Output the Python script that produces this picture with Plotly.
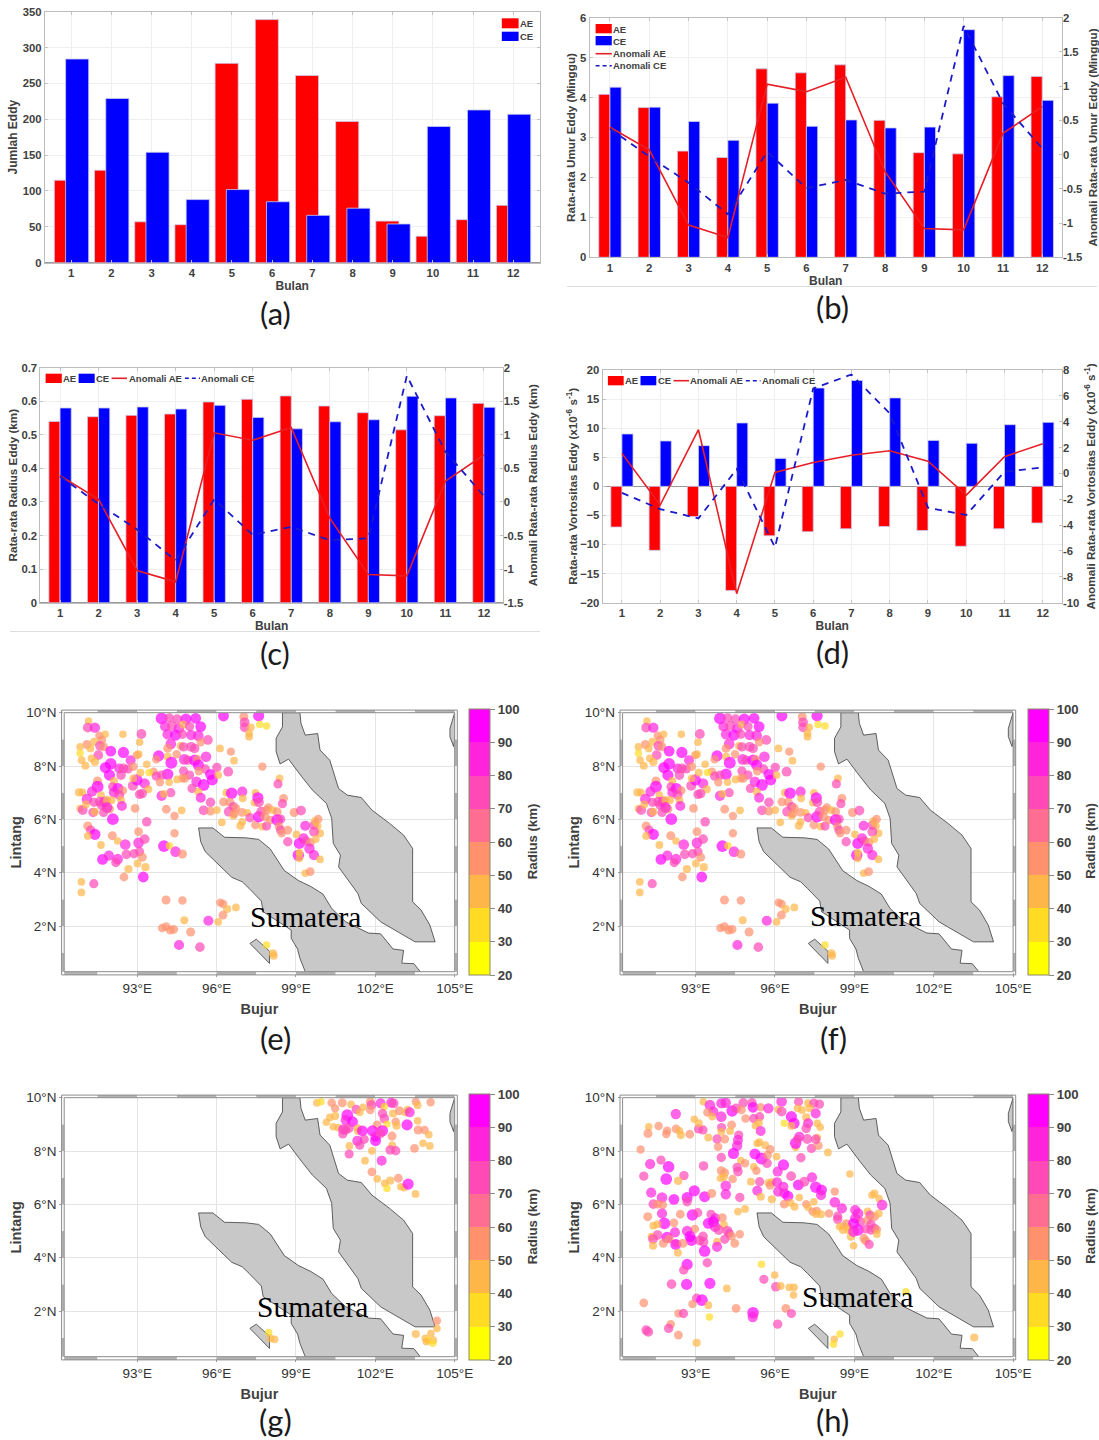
import plotly.graph_objects as go

W, H = 1099, 1440
months = list(range(1, 13))

count_ae = [115, 129, 57, 53, 278, 339, 261, 197, 58, 37, 60, 80]
count_ce = [284, 229, 154, 88, 102, 85, 66, 76, 54, 190, 213, 207]

age_ae = [4.08, 3.75, 2.66, 2.5, 4.72, 4.62, 4.82, 3.43, 2.62, 2.59, 4.02, 4.53]
age_ce = [4.26, 3.76, 3.4, 2.93, 3.86, 3.28, 3.44, 3.24, 3.26, 5.7, 4.55, 3.93]
age_anom_ae = [0.4, 0.07, -1.03, -1.21, 1.03, 0.92, 1.13, -0.25, -1.08, -1.10, 0.31, 0.70]
age_anom_ce = [0.38, -0.03, -0.41, -0.87, 0.04, -0.49, -0.37, -0.57, -0.54, 1.88, 0.75, 0.09]

radius_ae = [.54, .554, .558, .562, .598, .606, .616, .586, .566, .515, .557, .594]
radius_ce = [.58, .58, .583, .577, .588, .552, .518, .539, .545, .615, .61, .582]
radius_anom_ae = [0.39, 0.04, -1.02, -1.19, 1.03, 0.92, 1.11, -0.24, -1.08, -1.10, 0.31, 0.70]
radius_anom_ce = [0.38, -0.03, -0.41, -0.87, 0.04, -0.49, -0.37, -0.57, -0.54, 1.88, 0.75, 0.09]

vort_ae = [-7, -11, -5.2, -17.9, -8.5, -7.8, -7.3, -6.9, -7.6, -10.3, -7.3, -6.3]
vort_ce = [9, 7.8, 7, 10.9, 4.8, 16.9, 18.2, 15.2, 7.9, 7.4, 10.6, 11]
vort_anom_ae = [1.55, -2.45, 3.38, -9.3, 0.08, 0.85, 1.4, 1.75, 0.95, -1.68, 1.3, 2.3]
vort_anom_ce = [-1.5, -2.76, -3.48, 0.33, -5.72, 6.57, 7.65, 4.64, -2.65, -3.22, 0.13, 0.46]

sumatra_lon = [95.32, 95.86, 96.30, 97.10, 97.59, 98.03, 98.56, 99.09, 99.55, 100.02, 100.35, 100.88, 101.74, 102.20, 102.67, 103.07, 103.00, 103.46, 103.70, 99.35, 99.15, 99.06, 98.82, 98.82, 97.76, 97.69, 97.23, 96.97, 96.57, 96.04, 95.57, 95.40, 95.32]
sumatra_lat = [5.68, 5.68, 5.33, 5.31, 5.25, 4.89, 4.08, 3.71, 3.49, 3.20, 2.66, 2.16, 1.74, 1.71, 1.14, 1.09, 0.61, 0.59, 0.29, 0.29, 0.79, 1.14, 1.54, 1.85, 2.54, 2.94, 3.41, 3.66, 3.83, 4.35, 4.79, 5.16, 5.68]
peninsula_lon = [98.49, 99.15, 99.19, 99.35, 99.82, 99.91, 100.28, 100.61, 100.94, 101.47, 101.87, 102.54, 103.07, 103.41, 103.41, 103.73, 104.06, 104.26, 103.50, 103.07, 102.20, 101.47, 101.34, 100.61, 100.68, 100.41, 100.35, 100.15, 99.62, 99.22, 98.72, 98.40, 98.25, 98.25, 98.49, 98.49]
peninsula_lat = [10.0, 10.0, 9.60, 9.16, 9.22, 8.60, 8.22, 7.16, 6.91, 6.82, 6.35, 5.85, 5.41, 4.91, 2.91, 2.60, 2.04, 1.41, 1.41, 1.66, 2.16, 2.85, 3.22, 4.22, 4.66, 5.10, 6.04, 6.60, 7.10, 7.60, 8.26, 8.08, 8.54, 9.04, 9.47, 10.0]
island_lon = [97.26, 97.50, 98.00, 98.00, 97.26]
island_lat = [1.35, 1.51, 1.06, 0.60, 1.35]
sliver_lon = [104.82, 105.0, 105.0, 104.96, 104.82, 104.82]
sliver_lat = [9.41, 10.0, 8.98, 8.73, 9.10, 9.41]

e_lon = [
 91.16, 91.13, 91.40, 91.57, 91.79, 91.66, 91.10, 90.84, 91.23, 91.37,
 91.59, 91.73, 91.53, 90.84, 90.90, 91.04, 91.27, 91.40, 92.00, 92.48,
 92.75, 92.99, 93.05, 93.16, 93.09, 92.46, 92.00, 91.80, 91.95, 92.32,
 92.48, 92.65, 92.85, 92.39, 92.12, 91.50, 91.50, 91.29, 92.07, 92.27,
 92.12, 92.46, 92.32, 92.83, 93.28, 92.99, 92.85, 93.12, 93.36, 93.62,
 93.45, 93.42, 93.19, 93.09, 90.80, 90.93, 90.84, 90.94, 91.10, 91.06,
 91.37, 91.63, 91.59, 91.77, 91.66, 91.86, 92.03, 92.39, 92.42, 91.95,
 91.86, 91.33, 91.40, 91.73, 92.92, 92.08, 93.36, 93.05, 91.13, 91.24,
 91.40, 91.13, 92.06, 92.26, 93.05, 93.28, 92.55, 91.63, 91.69, 91.93,
 92.26, 92.19, 92.59, 92.88, 93.09, 93.19, 93.01, 93.31, 92.67, 93.23,
 92.50, 90.89, 90.89, 91.36,
 93.92, 94.21, 94.51, 94.84, 95.21, 94.05, 94.31, 94.58, 94.74, 94.98,
 95.40, 94.15, 94.45, 94.71, 95.04, 95.31, 95.67, 95.40, 94.27, 94.64,
 94.75, 95.04, 95.17, 94.15, 93.81, 93.72, 94.15, 94.49, 94.29, 94.78,
 94.91, 95.17, 95.27, 95.31, 95.60, 96.01, 95.57, 95.33, 94.75, 94.98,
 94.71, 94.51, 94.80, 94.15, 93.92, 93.72, 93.86, 94.21, 95.77, 95.84,
 96.06, 95.24, 95.51, 95.07, 95.31, 95.40, 95.77, 95.51, 95.77, 96.01,
 94.27, 93.92, 94.01, 94.10, 94.68, 94.41, 96.20, 94.41, 94.01, 94.22,
 94.45, 94.71, 96.44, 96.13, 96.54, 96.66, 96.26, 97.03, 97.06, 97.06,
 97.30, 97.23, 97.23, 97.59, 97.63, 97.89, 97.73, 98.38, 98.32, 98.53,
 98.49,
 96.37, 96.57, 96.97, 96.99, 97.47, 97.43, 97.56, 97.60, 96.26, 96.50,
 96.63, 96.73, 96.46, 96.63, 96.67, 96.97, 97.16, 96.97, 96.90, 97.26,
 97.47, 97.59, 97.69, 97.89, 97.96, 98.13, 98.29, 97.83, 97.73, 97.89,
 98.03, 98.29, 98.42, 98.36, 98.42, 98.69, 98.46, 98.69, 98.93, 99.19,
 99.02, 99.13, 99.29, 99.38, 99.55, 99.35, 99.68, 99.72, 99.84, 99.82,
 99.91, 99.68, 99.75, 99.51, 99.68, 99.09, 99.13, 99.13, 99.91, 99.35,
 99.54,
 94.09, 94.71, 93.94, 94.09, 94.25, 94.38, 94.78, 95.02, 94.58, 95.37,
 95.69, 96.06, 96.14, 96.25, 96.40, 96.24, 96.73, 97.89, 98.13, 98.16]
e_lat = [
 9.69, 9.44, 9.44, 9.14, 9.19, 8.98, 8.81, 8.72, 8.66, 8.91,
 8.76, 8.72, 8.41, 8.48, 8.22, 8.01, 8.29, 8.16, 8.56, 8.51,
 8.22, 8.41, 8.44, 9.20, 8.89, 9.19, 8.08, 7.94, 7.66, 7.91,
 7.91, 7.89, 7.98, 7.66, 7.44, 7.44, 7.22, 7.04, 7.22, 7.16,
 7.01, 7.08, 6.91, 7.26, 7.35, 7.48, 7.54, 7.75, 8.07, 7.79,
 7.76, 7.13, 6.97, 6.94, 7.01, 7.01, 6.41, 6.35, 6.76, 6.56,
 6.64, 6.91, 6.66, 6.66, 6.54, 6.72, 6.72, 6.72, 6.50, 6.39,
 6.45, 6.26, 6.29, 6.26, 6.41, 6.01, 5.91, 5.54, 5.75, 5.60,
 5.44, 5.38, 5.39, 5.19, 5.12, 5.26, 5.06, 5.04, 4.50, 4.64,
 4.51, 4.38, 4.69, 4.71, 4.79, 4.58, 4.35, 4.21, 4.14, 3.84,
 3.84, 3.66, 3.26, 3.59,
 9.79, 9.81, 9.76, 9.76, 9.79, 9.48, 9.51, 9.41, 9.56, 9.48,
 9.48, 9.19, 9.16, 9.19, 9.16, 9.14, 8.98, 8.89, 8.83, 8.75,
 8.72, 8.72, 8.66, 8.66, 8.38, 8.25, 8.35, 8.44, 8.12, 8.25,
 8.22, 8.22, 8.26, 8.04, 8.35, 7.95, 7.89, 7.81, 7.81, 7.66,
 7.54, 7.50, 7.54, 7.69, 7.66, 7.62, 7.39, 7.39, 7.69, 7.48,
 7.66, 7.41, 7.29, 7.16, 7.04, 6.81, 6.64, 6.34, 6.31, 6.35,
 7.00, 6.88, 6.96, 6.38, 6.34, 6.13, 5.89, 5.48, 5.00, 5.01,
 4.79, 4.70, 7.79, 8.66, 8.54, 8.20, 9.88, 9.85, 9.64, 9.45,
 9.45, 9.23, 9.10, 9.88, 9.56, 9.50, 7.98, 7.54, 7.33, 6.79,
 6.59,
 7.00, 6.98, 7.04, 6.79, 7.00, 6.63, 6.81, 6.64, 6.66, 6.64,
 6.48, 6.41, 6.29, 6.14, 6.22, 6.26, 6.25, 5.91, 5.76, 6.06,
 5.79, 6.10, 6.29, 6.35, 6.45, 6.35, 6.29, 6.10, 5.73, 5.75,
 5.98, 5.98, 6.01, 5.73, 5.60, 5.60, 5.48, 5.16, 6.26, 6.33,
 5.44, 5.10, 5.29, 5.19, 5.14, 5.76, 5.79, 5.94, 6.01, 5.75,
 5.48, 5.54, 5.26, 4.91, 4.66, 4.66, 4.75, 4.54, 4.50, 3.98,
 4.04,
 2.98, 2.96, 1.93, 1.98, 1.85, 1.88, 2.22, 1.78, 1.29, 1.21,
 2.20, 2.16, 2.88, 2.83, 2.64, 2.41, 2.70, 1.29, 0.98, 0.89]
e_rad = [
 40, 68, 75, 50, 40, 55, 58, 42, 42, 45,
 65, 58, 68, 38, 42, 45, 42, 48, 80, 85,
 70, 50, 45, 68, 40, 40, 90, 85, 85, 70,
 68, 60, 55, 65, 45, 58, 95, 72, 60, 82,
 72, 52, 68, 68, 75, 85, 42, 42, 40, 50,
 38, 45, 65, 62, 48, 42, 40, 68, 78, 42,
 60, 42, 68, 78, 68, 48, 42, 42, 70, 58,
 78, 65, 45, 60, 55, 92, 65, 55, 58, 60,
 85, 42, 58, 40, 78, 68, 78, 42, 80, 72,
 78, 60, 65, 62, 60, 58, 42, 48, 48, 80,
 55, 42, 42, 60,
 92, 60, 65, 85, 80, 70, 68, 75, 45, 60,
 80, 75, 85, 60, 72, 78, 68, 50, 78, 45,
 62, 68, 65, 55, 85, 50, 45, 50, 95, 78,
 62, 85, 50, 85, 78, 62, 62, 52, 60, 60,
 50, 42, 55, 88, 62, 60, 50, 40, 80, 82,
 42, 75, 92, 60, 45, 70, 65, 68, 55, 42,
 60, 72, 42, 55, 42, 50, 42, 50, 92, 38,
 78, 58, 68, 42, 50, 42, 82, 58, 68, 65,
 40, 42, 42, 85, 38, 38, 50, 42, 60, 55,
 60,
 42, 90, 72, 42, 40, 42, 85, 68, 55, 58,
 60, 55, 68, 42, 58, 55, 40, 42, 48, 62,
 55, 88, 68, 58, 50, 42, 58, 58, 42, 60,
 50, 90, 62, 55, 60, 55, 50, 62, 58, 68,
 42, 85, 72, 60, 55, 70, 62, 45, 52, 40,
 45, 68, 40, 75, 72, 88, 38, 42, 40, 40,
 55,
 58, 52, 52, 55, 58, 55, 45, 58, 72, 65,
 72, 42, 50, 50, 48, 55, 42, 38, 48, 45]

f_lon = e_lon
f_lat = e_lat
f_rad = e_rad

g_lon = [
 99.79, 99.95, 100.35, 100.75, 101.08, 101.81, 101.85, 102.20, 102.60, 102.69,
 103.53, 103.60, 104.09, 100.48, 101.28, 101.54, 101.41, 101.81, 102.34, 102.27,
 102.67, 102.91, 103.13, 103.22, 103.30, 100.28, 100.15, 100.48, 100.94, 100.88,
 101.14, 102.34, 102.07, 102.44, 102.77, 102.80, 103.20, 103.60, 100.41, 100.59,
 100.79, 100.88, 101.01, 100.77, 101.34, 101.34, 101.51, 101.89, 102.27, 102.01,
 102.01, 102.20, 102.63, 103.62, 103.86, 104.02, 101.58, 101.32, 101.41, 101.02,
 102.64, 103.80, 104.06, 103.48, 101.87, 102.56, 102.77, 101.01, 101.61, 102.24,
 101.87, 102.07, 102.56, 102.36, 102.44, 102.87, 102.96, 103.09, 103.24, 103.52,
 104.33, 104.33, 103.53, 104.10, 103.89, 103.99, 104.19, 103.93, 104.17, 97.97,
 98.03, 98.19]
g_lat = [
 9.81, 9.85, 9.81, 9.81, 9.75, 9.85, 9.72, 9.79, 9.81, 9.79,
 9.85, 9.72, 9.83, 9.60, 9.56, 9.64, 9.45, 9.54, 9.66, 9.41,
 9.41, 9.51, 9.45, 9.56, 9.45, 9.26, 9.08, 9.31, 9.35, 9.16,
 9.10, 9.22, 8.98, 9.01, 9.10, 8.95, 8.98, 9.13, 8.91, 8.88,
 8.81, 8.79, 8.85, 8.64, 8.85, 8.75, 8.76, 8.76, 8.76, 8.54,
 8.39, 8.66, 8.56, 8.79, 8.79, 8.62, 8.44, 8.38, 8.22, 8.19,
 8.22, 8.29, 8.19, 8.10, 8.01, 8.04, 8.01, 7.89, 7.64, 7.64,
 7.22, 6.96, 6.89, 6.79, 6.60, 6.98, 6.66, 6.63, 6.76, 6.39,
 1.64, 1.35, 1.14, 1.16, 0.98, 0.91, 0.91, 0.85, 0.79, 1.20,
 0.98, 0.94]
g_rad = [
 42, 38, 52, 58, 42, 58, 65, 72, 70, 68,
 50, 42, 50, 50, 62, 40, 42, 52, 38, 62,
 45, 58, 42, 40, 70, 42, 40, 48, 92, 72,
 80, 65, 58, 38, 50, 48, 85, 40, 40, 42,
 75, 62, 60, 60, 45, 42, 80, 82, 85, 75,
 82, 60, 58, 58, 52, 42, 60, 72, 60, 42,
 42, 40, 42, 55, 42, 65, 62, 60, 42, 70,
 55, 42, 48, 42, 38, 55, 40, 42, 85, 42,
 50, 40, 48, 40, 42, 38, 42, 40, 38, 38,
 42, 42]

h_lon = [
 93.29, 93.54, 93.67, 93.45, 93.63, 93.97, 94.14, 94.38, 94.53, 93.97,
 92.25, 94.80, 95.13, 94.73, 95.17, 95.46, 95.75, 96.25, 96.12, 96.25,
 96.62, 96.72, 96.89, 97.25, 97.47, 97.68, 96.85, 97.02, 97.31, 97.54,
 97.18, 97.25, 97.18, 97.60, 97.71, 96.35, 96.62, 94.89, 95.20, 95.42,
 95.39, 95.26, 95.46, 94.36, 93.98, 94.30, 93.97, 94.63, 94.60, 94.57,
 93.81, 94.10, 93.48, 93.11, 93.28, 92.95, 93.12, 91.23, 91.60, 91.20,
 91.92, 91.89, 92.26, 92.39, 92.44, 92.78, 90.92, 91.28, 91.69, 91.98,
 93.30, 91.04, 92.56, 91.89, 92.34, 93.85, 93.97, 94.43, 94.71, 94.87,
 94.57, 94.60, 93.97, 94.10, 93.94, 94.07, 94.40, 94.14, 94.14, 94.67,
 95.24, 95.49, 95.41, 95.33, 95.63, 95.82, 95.72, 95.70, 96.06, 96.32,
 96.10, 95.20, 95.30, 95.09, 95.42, 95.33, 95.46, 95.75, 95.88, 95.82,
 96.08, 96.12, 96.32, 96.36, 96.49, 96.61, 96.88, 97.11, 96.78, 96.78,
 96.92, 96.85, 97.22, 97.38, 97.60, 97.64, 98.00, 96.98, 97.54, 97.40,
 97.54, 97.76, 97.74, 98.83, 98.26, 98.26, 98.53, 95.88, 96.35, 96.58,
 96.74, 96.92, 97.18, 97.25, 97.47, 97.42, 97.58, 97.55, 97.74, 98.04,
 91.32, 91.73, 92.18, 92.68, 92.68, 92.95, 93.34, 93.61, 91.40, 91.76,
 91.56, 91.73, 91.19, 92.42, 92.88, 93.08, 94.60, 94.87, 93.58, 93.74,
 94.01, 93.48, 93.67, 93.74, 94.07, 91.82, 92.18, 91.40, 91.56, 92.97,
 92.22, 92.68, 92.79, 92.84, 93.28, 93.15, 93.30, 91.56, 91.33, 91.39,
 91.92, 92.00, 91.78, 92.25, 92.25, 92.52, 91.39, 92.33, 93.34, 93.87,
 94.20, 94.27, 94.36, 94.10, 93.81, 93.81, 94.48, 94.67, 93.44, 92.68,
 92.55, 92.09, 92.66, 93.54, 94.18, 95.49, 95.99, 95.58, 96.03, 96.21,
 96.54, 96.72, 96.70, 91.04, 93.04, 93.24, 92.88, 93.48, 93.52, 94.53,
 95.17, 95.16, 96.41, 96.62, 96.10, 92.35, 92.54, 92.06, 91.98, 91.13,
 91.21, 92.35, 93.04, 98.24, 98.21, 98.46, 103.53, 100.95,
 98.37, 98.37, 98.44, 98.57, 98.57, 98.70, 98.79, 98.77, 98.87, 98.97,
 99.03, 99.14, 99.03, 99.23, 98.97, 99.14, 98.97, 99.50, 99.59, 99.76,
 99.92, 99.50, 99.63, 99.76, 99.43, 99.63, 99.85, 99.85, 99.36, 99.43,
 99.56, 99.67, 99.76, 99.93, 100.05]
h_lat = [
 9.85, 9.72, 9.48, 9.45, 9.29, 9.79, 9.81, 9.50, 9.60, 9.29,
 9.39, 9.81, 9.81, 9.54, 9.64, 9.64, 9.60, 9.86, 9.56, 9.48,
 9.29, 9.04, 9.85, 9.79, 9.79, 9.76, 9.60, 9.54, 9.60, 9.41,
 9.26, 9.04, 8.85, 9.04, 8.89, 9.04, 8.94, 9.22, 9.22, 9.29,
 9.06, 8.95, 8.75, 8.98, 8.88, 8.75, 8.72, 8.60, 8.41, 8.20,
 8.45, 8.45, 8.51, 8.83, 8.79, 9.19, 9.04, 8.91, 8.94, 8.66,
 8.76, 8.64, 8.83, 8.76, 8.60, 8.63, 8.06, 7.51, 7.66, 7.41,
 7.44, 7.06, 7.08, 6.95, 6.88, 8.16, 7.76, 7.91, 7.64, 7.54,
 7.39, 7.23, 7.26, 7.19, 6.98, 7.04, 6.95, 6.70, 6.38, 6.26,
 7.89, 7.72, 8.33, 8.29, 8.22, 8.06, 7.85, 7.54, 7.79, 7.48,
 7.23, 7.41, 7.26, 6.85, 6.85, 6.51, 6.29, 6.81, 6.85, 6.71,
 6.83, 6.48, 6.66, 6.41, 6.31, 7.06, 6.73, 6.85, 8.13, 8.29,
 8.54, 8.44, 8.45, 8.10, 8.51, 8.20, 7.95, 7.75, 8.44, 7.01,
 6.64, 6.54, 6.35, 7.14, 6.48, 6.08, 5.85, 6.19, 6.01, 6.06,
 5.91, 6.26, 6.01, 5.89, 6.10, 5.73, 5.75, 5.64, 5.63, 5.66,
 6.44, 6.26, 6.19, 6.26, 6.10, 6.51, 6.29, 6.41, 6.01, 5.98,
 6.01, 5.66, 5.54, 5.63, 5.60, 5.69, 5.73, 5.83, 5.63, 5.48,
 5.50, 5.29, 5.35, 5.16, 5.23, 5.29, 5.31, 5.20, 5.26, 5.08,
 4.95, 5.00, 4.80, 4.65, 4.80, 4.65, 4.59, 4.85, 4.79, 4.70,
 4.76, 4.70, 4.54, 4.54, 4.50, 4.54, 4.45, 4.19, 4.25, 5.04,
 5.01, 4.91, 4.81, 4.69, 4.60, 4.41, 4.54, 4.88, 3.81, 3.75,
 3.54, 3.01, 3.00, 3.04, 2.85, 3.76, 3.35, 3.19, 2.91, 2.94,
 2.89, 2.89, 2.60, 2.31, 2.48, 2.41, 2.26, 2.22, 1.78, 2.10,
 1.94, 1.78, 2.10, 1.91, 1.51, 1.91, 1.91, 1.51, 1.35, 1.29,
 1.22, 1.10, 0.81, 0.94, 0.76, 1.14, 1.01, 2.73,
 5.56, 5.44, 5.16, 5.19, 5.04, 5.29, 5.16, 5.04, 4.79, 4.45,
 5.79, 5.66, 5.48, 5.35, 5.29, 5.04, 4.98, 5.73, 5.60, 5.54,
 5.66, 5.41, 5.26, 5.10, 5.08, 5.04, 5.06, 4.89, 4.73, 4.63,
 4.50, 6.35, 6.41, 6.22, 5.98]
h_rad = [
 40, 78, 70, 55, 40, 72, 75, 88, 68, 78,
 75, 65, 62, 55, 80, 50, 75, 78, 40, 68,
 85, 85, 60, 45, 62, 62, 42, 45, 45, 72,
 48, 70, 65, 42, 40, 38, 42, 52, 62, 60,
 48, 40, 70, 55, 60, 42, 42, 60, 70, 75,
 62, 55, 45, 60, 60, 40, 45, 40, 52, 58,
 52, 50, 55, 40, 48, 55, 50, 72, 60, 90,
 65, 62, 62, 92, 48, 52, 62, 85, 40, 50,
 62, 65, 58, 55, 40, 45, 52, 78, 75, 62,
 82, 95, 42, 42, 45, 55, 55, 65, 40, 85,
 70, 42, 50, 42, 62, 70, 45, 42, 40, 55,
 70, 72, 70, 72, 80, 68, 80, 68, 40, 88,
 70, 62, 68, 62, 40, 55, 42, 62, 65, 72,
 88, 80, 72, 40, 50, 78, 72, 48, 55, 45,
 45, 40, 50, 40, 40, 50, 52, 48, 45, 50,
 72, 78, 80, 82, 62, 85, 82, 58, 65, 52,
 55, 72, 58, 55, 88, 60, 42, 42, 60, 72,
 58, 82, 80, 78, 45, 92, 55, 42, 42, 52,
 72, 78, 82, 85, 65, 68, 65, 68, 42, 68,
 85, 58, 58, 40, 82, 58, 45, 45, 90, 68,
 68, 60, 55, 60, 42, 72, 55, 50, 62, 85,
 62, 65, 85, 85, 42, 38, 40, 60, 65, 45,
 42, 42, 40, 55, 62, 90, 50, 42, 38, 55,
 90, 75, 55, 60, 62, 50, 62, 52, 62, 65,
 68, 55, 48, 40, 38, 38, 48, 38,
 60, 62, 40, 40, 45, 50, 48, 48, 48, 40,
 70, 78, 72, 62, 80, 88, 78, 45, 62, 58,
 45, 55, 60, 62, 60, 62, 50, 42, 55, 55,
 60, 42, 45, 40, 78]

GREY = "#404040"
FONT = "Liberation Sans"
BAR_BOX = {
    "a": (44.9, 539.6, 11.7, 262.7),
    "b": (589.6, 1061.9, 17.7, 257.3),
    "c": (40.4, 502.8, 367.7, 602.7),
    "d": (602.6, 1061.9, 370.0, 602.7),
}
MAP_COLS = {"e": 64.2, "f": 622.6, "g": 64.2, "h": 622.6}
MAP_TOPS = {"e": 712.7, "f": 712.7, "g": 1097.7, "h": 1097.7}
MAP_W, MAP_H = 390.5, 259.0
LON0, LON1, LAT0, LAT1 = 90.24, 105.0, 0.29, 10.0


def px(v):
    return v / W


def py(v):
    return 1 - v / H


fig = go.Figure()
shapes, annotations = [], []
layout = {}


def text(x, y, s, size=9.5, bold=True, color=GREY, family=FONT, anchor="left", angle=0):
    annotations.append(dict(
        x=px(x), y=py(y), xref="paper", yref="paper", text=s, showarrow=False,
        xanchor=anchor, yanchor="middle", textangle=angle, borderpad=0, borderwidth=0,
        font=dict(family=family, size=size, color=color, weight=700 if bold else 400),
    ))


def swatch(x0, x1, y0, y1, color):
    shapes.append(dict(type="rect", xref="paper", yref="paper", x0=px(x0), x1=px(x1),
                       y0=py(y0), y1=py(y1), fillcolor=color, line=dict(width=0), layer="above"))


def lineswatch(x0, x1, y, color, dash):
    shapes.append(dict(type="line", xref="paper", yref="paper", x0=px(x0), x1=px(x1),
                       y0=py(y), y1=py(y), line=dict(color=color, width=1.6, dash=dash), layer="above"))


def bar_panel(n, key, ae, ce, xr, yr, ytitle, ae_off, ce_off, width, standoff, ydtick,
              anom_ae=None, anom_ce=None, y2r=None, y2title=None, y2vals=None,
              y2standoff=6, size=11.7):
    x0, x1, top, bot = BAR_BOX[key]
    xa, ya = f"x{n}", f"y{n}"
    for vals, off, color, nm in ((ae, ae_off, "#ff0000", "AE"), (ce, ce_off, "#0000ff", "CE")):
        fig.add_trace(go.Bar(x=months, y=vals, offset=off, width=width, name=nm,
                             marker=dict(color=color, line=dict(color="rgba(205,205,235,0.8)", width=1)),
                             xaxis=xa, yaxis=ya, showlegend=False))
    layout[f"xaxis{n}"] = dict(
        domain=[px(x0), px(x1)], anchor=ya, range=xr, tickvals=months,
        title=dict(text="Bulan", standoff=3, font=dict(family=FONT, size=12, color=GREY, weight=700)),
        tickfont=dict(family=FONT, size=11.3, color=GREY, weight=700),
        showgrid=True, gridcolor="#efefef", showline=True, mirror="ticks", linecolor="#bdbdbd",
        ticks="inside", ticklen=3, tickcolor="#c4c4c4", zeroline=False)
    layout[f"yaxis{n}"] = dict(
        domain=[py(bot), py(top)], anchor=xa, range=yr, dtick=ydtick,
        title=dict(text=ytitle, standoff=standoff, font=dict(family=FONT, size=size, color=GREY, weight=700)),
        tickfont=dict(family=FONT, size=11.3, color=GREY, weight=700),
        showgrid=True, gridcolor="#efefef", showline=True, linecolor="#bdbdbd",
        mirror=anom_ae is None and "ticks" or True,
        ticks="inside", ticklen=3, tickcolor="#c4c4c4",
        zeroline=True, zerolinecolor="#9a9a9a", zerolinewidth=1)
    if anom_ae is not None:
        r = f"y{n + 20}"
        fig.add_trace(go.Scatter(x=months, y=anom_ae, mode="lines", name="Anomali AE",
                                 line=dict(color="#e81e25", width=1.6), xaxis=xa, yaxis=r, showlegend=False))
        fig.add_trace(go.Scatter(x=months, y=anom_ce, mode="lines", name="Anomali CE",
                                 line=dict(color="#1a1acb", width=1.8, dash="7px,6px"), xaxis=xa, yaxis=r,
                                 showlegend=False))
        layout[f"yaxis{n + 20}"] = dict(
            overlaying=ya, side="right", anchor=xa, range=y2r, tickvals=y2vals,
            ticktext=[f"{v:g}" for v in y2vals],
            title=dict(text=y2title, standoff=y2standoff, font=dict(family=FONT, size=size, color=GREY, weight=700)),
            tickfont=dict(family=FONT, size=11.3, color=GREY, weight=700),
            showgrid=False, zeroline=False, showline=False, ticks="inside", ticklen=3, tickcolor="#c4c4c4")


bar_panel(1, "a", count_ae, count_ce, [0.345, 12.655], [0, 350], "Jumlah Eddy", -0.42, -0.14, 0.575, 2, 50, size=12)
half = [-1.5, -1, -0.5, 0, 0.5, 1, 1.5, 2]
bar_panel(2, "b", age_ae, age_ce, [0.482, 12.5], [0, 6], "Rata-rata Umur Eddy (Minggu)", -0.285, 0, 0.285, 1, 1,
          age_anom_ae, age_anom_ce, [-1.5, 2], "Anomali Rata-rata Umur Eddy (Minggu)", half, y2standoff=7)
bar_panel(3, "c", radius_ae, radius_ce, [0.49, 12.49], [0, 0.7], "Rata-rata Radius Eddy (km)", -0.29, 0, 0.29, 1, 0.1,
          radius_anom_ae, radius_anom_ce, [-1.5, 2], "Anomali Rata-rata Radius Eddy (km)", half, y2standoff=6)
bar_panel(4, "d", vort_ae, vort_ce, [0.495, 12.5], [-20, 20], "Rata-rata Vortositas Eddy (x10<sup>-6</sup> s<sup>-1</sup>)",
          -0.29, 0, 0.29, 0, 5,
          vort_anom_ae, vort_anom_ce, [-10, 8], "Anomali Rata-rata Vortositas Eddy (x10<sup>-6</sup> s<sup>-1</sup>)",
          [-10, -8, -6, -4, -2, 0, 2, 4, 6, 8], y2standoff=8)

# Custom legends that keep MATLAB's wide swatches
RED, BLUE, LRED, LBLUE = "#ff0000", "#0000ff", "#e81e25", "#1a1acb"
swatch(501.8, 518.6, 18.3, 28.3, RED); text(520.4, 23.3, "AE")
swatch(501.8, 518.6, 31.7, 41, BLUE); text(520.4, 36.3, "CE")

swatch(595.6, 611.8, 24, 33.3, RED); text(613.2, 29, "AE")
swatch(595.6, 611.8, 36, 45.3, BLUE); text(613.2, 41, "CE")
lineswatch(595.6, 611.8, 53.7, LRED, "solid"); text(613.2, 53.7, "Anomali AE")
lineswatch(595.6, 611.8, 65.7, LBLUE, "4px,3px"); text(613.2, 65.7, "Anomali CE")

swatch(45.6, 61.8, 373.7, 383, RED); text(63.2, 378.3, "AE")
swatch(78.6, 94.7, 373.7, 383, BLUE); text(95.8, 378.3, "CE")
lineswatch(111.6, 127, 378.3, LRED, "solid"); text(128.8, 378.3, "Anomali AE")
lineswatch(184.9, 200, 378.3, LBLUE, "4px,3px"); text(201.4, 378.3, "Anomali CE")

swatch(607.9, 623.7, 376, 385.3, RED); text(624.7, 380.7, "AE")
swatch(640.5, 656.3, 376, 385.3, BLUE); text(657.7, 380.7, "CE")
lineswatch(673.5, 689, 380.7, LRED, "solid"); text(690.4, 380.7, "Anomali AE")
lineswatch(745.8, 760.5, 380.7, LBLUE, "4px,3px"); text(762.3, 380.7, "Anomali CE")

# Separator rules under (b) and (c)
for xa0, xa1, yy in ((567, 1097, 286.5), (10, 540, 631.5)):
    shapes.append(dict(type="line", xref="paper", yref="paper", x0=px(xa0), x1=px(xa1), y0=py(yy), y1=py(yy),
                       line=dict(color="#dedede", width=1.2)))

SPRING = [(255, 255, 0), (255, 219, 36), (255, 182, 73), (255, 146, 109),
          (255, 109, 146), (255, 73, 182), (255, 36, 219), (255, 0, 255)]
scale = []
for i, c in enumerate(SPRING):
    col = f"rgb{c}"
    scale += [[i / 8, col], [(i + 1) / 8, col]]


def frame(x0, y0):
    band = 2.6
    x1, y1 = x0 + MAP_W, y0 + MAP_H
    lx = lambda v: x0 + (v - LON0) / (LON1 - LON0) * MAP_W
    ly = lambda v: y1 - (v - LAT0) / (LAT1 - LAT0) * MAP_H
    xe = [LON0, 91.5, 93, 94.5, 96, 97.5, 99, 100.5, 102, 103.5, 105]
    ye = [LAT0] + list(range(1, 11))
    rect = dict(type="rect", xref="paper", yref="paper", layer="above", line=dict(width=0))
    for i in range(len(xe) - 1):
        a, b = lx(xe[i]), lx(xe[i + 1])
        bot_c, top_c = ("#b4b4b4", "#ffffff") if i % 2 == 0 else ("#ffffff", "#b4b4b4")
        shapes.append({**rect, "x0": px(a), "x1": px(b), "y0": py(y1), "y1": py(y1 + band + 0.6), "fillcolor": bot_c})
        shapes.append({**rect, "x0": px(a), "x1": px(b), "y0": py(y0 - band), "y1": py(y0), "fillcolor": top_c})
    for i in range(len(ye) - 1):
        a, b = ly(ye[i]), ly(ye[i + 1])
        c1 = "#b4b4b4" if i % 2 == 0 else "#ffffff"
        shapes.append({**rect, "x0": px(x0 - band), "x1": px(x0), "y0": py(a), "y1": py(b), "fillcolor": c1})
        shapes.append({**rect, "x0": px(x1), "x1": px(x1 + band), "y0": py(a), "y1": py(b), "fillcolor": c1})
    for xa_, xb_, ya_, yb_ in ((x0 - band, x1 + band, y0 - band, y1 + band + 0.6), (x0, x1, y0, y1)):
        shapes.append(dict(type="rect", xref="paper", yref="paper", layer="above",
                           x0=px(xa_), x1=px(xb_), y0=py(yb_), y1=py(ya_),
                           line=dict(color="#8c8c8c", width=1), fillcolor="rgba(0,0,0,0)"))


def map_panel(n, key, lons, lats, rads, cbar_x, title_x):
    x0, top = MAP_COLS[key], MAP_TOPS[key]
    bot = top + MAP_H
    xa, ya = f"x{n}", f"y{n}"
    for plon, plat in ((sumatra_lon, sumatra_lat), (peninsula_lon, peninsula_lat),
                       (island_lon, island_lat), (sliver_lon, sliver_lat)):
        fig.add_trace(go.Scatter(x=plon, y=plat, mode="lines", fill="toself", fillcolor="#c8c8c8",
                                 line=dict(color="#3c3c3c", width=0.8), xaxis=xa, yaxis=ya,
                                 hoverinfo="skip", showlegend=False))
    sizes = [7.6 + (r - 40) * 0.08 for r in rads]
    shown = [r + 10 if r >= 60 else r for r in rads]
    fig.add_trace(go.Scatter(
        x=lons, y=lats, mode="markers", xaxis=xa, yaxis=ya, showlegend=False, name="Radius",
        marker=dict(size=sizes, color=shown, cmin=20, cmax=100, colorscale=scale, line=dict(width=0),
                    colorbar=dict(
                        x=px(cbar_x), xanchor="left", xref="paper", y=py(bot + 3.3), yanchor="bottom", yref="paper",
                        lenmode="pixels", len=266, thicknessmode="pixels", thickness=21.4,
                        tickvals=list(range(20, 101, 10)), ticks="outside", ticklen=5, tickcolor="#8a8a8a",
                        outlinecolor="#8a8a6a", outlinewidth=1,
                        tickfont=dict(family=FONT, size=13.2, color=GREY, weight=700),
                        xpad=0, ypad=0,
                    ))))
    text(title_x, (top + bot) / 2 - 0.5, "Radius (km)", size=13.2, anchor="center", angle=-90)
    layout[f"xaxis{n}"] = dict(
        domain=[px(x0), px(x0 + MAP_W)], anchor=ya, range=[LON0, LON1],
        tickvals=[93, 96, 99, 102, 105], ticktext=["93°E", "96°E", "99°E", "102°E", "105°E"],
        title=dict(text="Bujur", standoff=8, font=dict(family=FONT, size=14.5, color=GREY, weight=700)),
        tickfont=dict(family=FONT, size=13.5, color="#333333"),
        showgrid=True, gridcolor="#e4e4e4", zeroline=False, ticks="outside", ticklen=4, tickcolor="#9c9c9c")
    layout[f"yaxis{n}"] = dict(
        domain=[py(bot), py(top)], anchor=xa, range=[LAT0, LAT1],
        tickvals=[2, 4, 6, 8, 10], ticktext=["2°N", "4°N", "6°N", "8°N", "10°N"],
        title=dict(text="Lintang", standoff=1, font=dict(family=FONT, size=14.5, color=GREY, weight=700)),
        tickfont=dict(family=FONT, size=13.5, color="#333333"),
        showgrid=True, gridcolor="#e4e4e4", zeroline=False, ticks="outside", ticklen=4, tickcolor="#9c9c9c")
    frame(x0, top)


map_panel(5, "e", e_lon, e_lat, e_rad, 469.1, 532.5)
map_panel(6, "f", f_lon, f_lat, f_rad, 1027.9, 1091)
map_panel(7, "g", g_lon, g_lat, g_rad, 469.1, 532.5)
map_panel(8, "h", h_lon, h_lat, h_rad, 1027.9, 1091)

for x, y in ((305.6, 917), (865.8, 916), (312, 1306.7), (857.7, 1296.7)):
    text(x, y, "Sumatera", size=29.5, bold=False, color="#000000", family="Liberation Serif", anchor="center")

for x, y, s in ((275.4, 313, "(a)"), (832.5, 306.7, "(b)"), (275.4, 652.7, "(c)"), (832.5, 651.7, "(d)"),
                (275.4, 1038, "(e)"), (833.5, 1038, "(f)"), (275.4, 1420, "(g)"), (832.5, 1420, "(h)")):
    text(x, y, s, size=31, bold=False, color="#1a1a1a", family="Lato", anchor="center")

fig.update_layout(
    width=W, height=H, autosize=False, margin=dict(l=0, r=0, t=0, b=0, autoexpand=False),
    paper_bgcolor="white", plot_bgcolor="white", barmode="overlay", showlegend=False,
    shapes=shapes, annotations=annotations, **layout,
)
fig.write_html("out.html", config={"displayModeBar": False, "responsive": False},
               post_script="document.body.style.margin='0';document.documentElement.style.overflow='hidden';")
